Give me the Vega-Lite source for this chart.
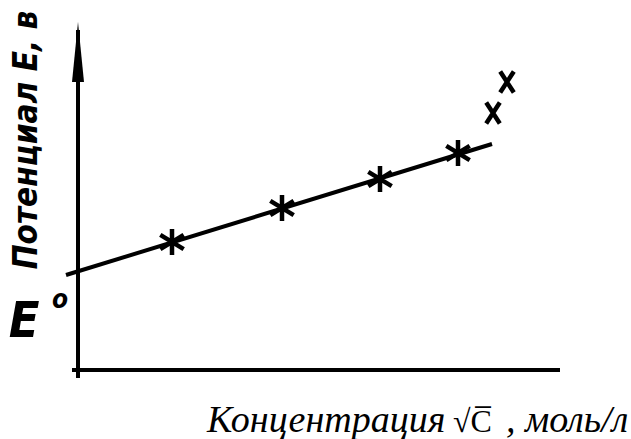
{
  "$schema": "https://vega.github.io/schema/vega-lite/v6.json",
  "width": 631,
  "height": 439,
  "padding": 0,
  "autosize": "none",
  "background": "white",
  "config": {"view": {"stroke": null}},
  "datasets": {
    "axes": [
      {"x": -0.06, "y": 0, "x2": 4.82, "y2": 0},
      {"x": 0, "y": -0.08, "x2": 0, "y2": 3.4}
    ],
    "fit": [
      {"x": -0.12, "y": 0.95},
      {"x": 4.14, "y": 2.26}
    ],
    "arrow": [{"x": 0, "y": 3.18}],
    "stars": [
      {"x": 0.94, "y": 1.28},
      {"x": 2.04, "y": 1.62},
      {"x": 3.02, "y": 1.91},
      {"x": 3.80, "y": 2.17}
    ],
    "crosses": [
      {"x": 4.15, "y": 2.57},
      {"x": 4.29, "y": 2.88}
    ],
    "hand": [
      {"x": -0.54, "y": 0.33, "label": "E", "size": 50},
      {"x": -0.18, "y": 0.62, "label": "o", "size": 26}
    ],
    "ylab": [{"x": -0.41, "y": 2.30, "label": "Потенциал E, в"}],
    "xital": [
      {"x": 1.29, "y": -0.62, "label": "Концентрация"},
      {"x": 4.28, "y": -0.62, "label": ", моль/л"}
    ],
    "xroot": [
      {"x": 3.75, "y": -0.62, "label": "√C̅"}
    ]
  },
  "encoding": {
    "x": {"field": "x", "type": "quantitative", "scale": {"domain": [-0.78, 5.53], "nice": false, "zero": false}, "axis": null},
    "y": {"field": "y", "type": "quantitative", "scale": {"domain": [-0.69, 3.70], "nice": false, "zero": false}, "axis": null}
  },
  "layer": [
    {
      "data": {"name": "axes"},
      "mark": {"type": "rule", "color": "black", "strokeWidth": 4},
      "encoding": {"x2": {"field": "x2"}, "y2": {"field": "y2"}}
    },
    {
      "data": {"name": "fit"},
      "mark": {"type": "line", "color": "black", "strokeWidth": 4}
    },
    {
      "data": {"name": "arrow"},
      "mark": {"type": "point", "shape": "M0,-1L0.2,1L-0.2,1Z", "filled": true, "color": "black", "size": 3600, "opacity": 1}
    },
    {
      "data": {"name": "stars"},
      "mark": {"type": "point", "shape": "M0,-1L0,1M-0.9,-0.55L0.9,0.55M-0.9,0.55L0.9,-0.55", "filled": false, "color": "black", "strokeWidth": 4.5, "size": 676, "opacity": 1}
    },
    {
      "data": {"name": "crosses"},
      "mark": {"type": "point", "shape": "M-0.65,-1L0.65,1M0.65,-1L-0.65,1", "filled": false, "color": "black", "strokeWidth": 4.5, "size": 440, "opacity": 1}
    },
    {
      "data": {"name": "hand"},
      "mark": {"type": "text", "font": "DejaVu Sans Condensed, DejaVu Sans", "fontStyle": "italic", "fontWeight": "bold", "align": "center", "baseline": "alphabetic", "color": "black"},
      "encoding": {"text": {"field": "label"}, "size": {"field": "size", "type": "quantitative", "scale": null}}
    },
    {
      "data": {"name": "ylab"},
      "mark": {"type": "text", "font": "DejaVu Sans Condensed, DejaVu Sans", "fontStyle": "italic", "fontWeight": "bold", "fontSize": 33, "angle": 270, "align": "center", "baseline": "alphabetic", "color": "black"},
      "encoding": {"text": {"field": "label"}}
    },
    {
      "data": {"name": "xital"},
      "mark": {"type": "text", "font": "Liberation Serif", "fontStyle": "italic", "fontSize": 38, "align": "left", "baseline": "alphabetic", "color": "black"},
      "encoding": {"text": {"field": "label"}}
    },
    {
      "data": {"name": "xroot"},
      "mark": {"type": "text", "font": "Liberation Serif", "fontSize": 32, "align": "left", "baseline": "alphabetic", "color": "black"},
      "encoding": {"text": {"field": "label"}}
    }
  ]
}
